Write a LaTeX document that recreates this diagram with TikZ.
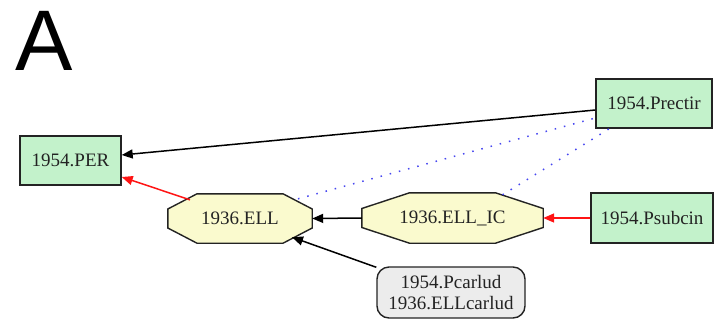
\documentclass[tikz,border=0pt]{standalone}
\usepackage{fontspec}
\setmainfont{Liberation Serif}
\newfontfamily\labelfont{Liberation Sans}
\usetikzlibrary{arrows.meta,calc,backgrounds}
\definecolor{boxgreen}{RGB}{195,242,203}
\definecolor{boxyellow}{RGB}{250,250,206}
\definecolor{boxgrey}{RGB}{236,236,236}
\definecolor{edgeblue}{RGB}{70,70,240}
\definecolor{edgered}{RGB}{255,20,20}
\definecolor{linegrey}{RGB}{35,35,35}
\begin{document}
\begin{tikzpicture}[x=1pt,y=-1pt,
  every node/.style={font=\fontsize{19}{21}\selectfont, inner sep=0pt, text=linegrey},
  greenbox/.style={draw=linegrey, fill=boxgreen, line width=1.4pt, minimum height=49pt},
  octnode/.style={minimum height=49pt},
  octline/.style={draw=linegrey, fill=boxyellow, line width=1.4pt},
  greybox/.style={draw=linegrey, fill=boxgrey, rounded corners=12pt, line width=1.4pt, minimum width=148pt, minimum height=51pt, align=center},
  edgebase/.style={line width=1.5pt, -{Triangle[length=11pt,width=9pt]}},
  blackedge/.style={edgebase, draw=black},
  rededge/.style={edgebase, draw=edgered},
  dotedge/.style={draw=edgeblue, line width=1.5pt, dash pattern=on 1.5pt off 8pt}
]
\useasboundingbox (0,0) rectangle (714,325);

\node[anchor=base west, font=\labelfont\fontsize{86}{86}\selectfont, text=black] (lbl) at (15,70) {A};

\node[greenbox, minimum width=101pt] (per) at (70.5,160.5) {1954.PER};
\node[greenbox, minimum width=116pt] (prectir) at (654,103.5) {1954.Prectir};
\node[greenbox, minimum width=122pt, minimum height=50pt] (psub) at (652,218) {1954.Psubcin};
\node[octnode, minimum width=144pt] (ell) at (240,218.5) {1936.ELL};
\node[octnode, minimum width=181pt, minimum height=50pt] (ellic) at (452.5,218) {1936.ELL\_IC};
\node[greybox] (pcar) at (451,292.5) {1954.Pcarlud\\1936.ELLcarlud};

\begin{scope}[on background layer]
\draw[octline] ([xshift=-43pt]ell.north) -- ([xshift=43pt]ell.north) -- ([yshift=9.5pt]ell.east) -- ([yshift=-9.5pt]ell.east) -- ([xshift=43pt]ell.south) -- ([xshift=-43pt]ell.south) -- ([yshift=-9.5pt]ell.west) -- ([yshift=9.5pt]ell.west) -- cycle;
\draw[octline] ([xshift=-43pt]ellic.north) -- ([xshift=43pt]ellic.north) -- ([yshift=9.5pt]ellic.east) -- ([yshift=-9.5pt]ellic.east) -- ([xshift=43pt]ellic.south) -- ([xshift=-43pt]ellic.south) -- ([yshift=-9.5pt]ellic.west) -- ([yshift=9.5pt]ellic.west) -- cycle;
\end{scope}

\draw[blackedge] ([yshift=-6.5pt]prectir.west) -- ([yshift=5.5pt]per.east);
\draw[rededge] ($(ell.north)+(-50,6)$) -- ([yshift=-16.5pt]per.east);
\draw[blackedge] (ellic.west) -- (ell.east);
\draw[rededge] (psub.west) -- (ellic.east);
\draw[blackedge] ([yshift=-1pt]pcar.north west) -- ($(ell.south)+(52,-6)$);
\draw[dotedge] ($(ell.north)+(58,5)$) -- ([yshift=-14.5pt]prectir.west);
\draw[dotedge] ($(ellic.north)+(50,2)$) -- ([xshift=14pt]prectir.south west);
\end{tikzpicture}
\end{document}
